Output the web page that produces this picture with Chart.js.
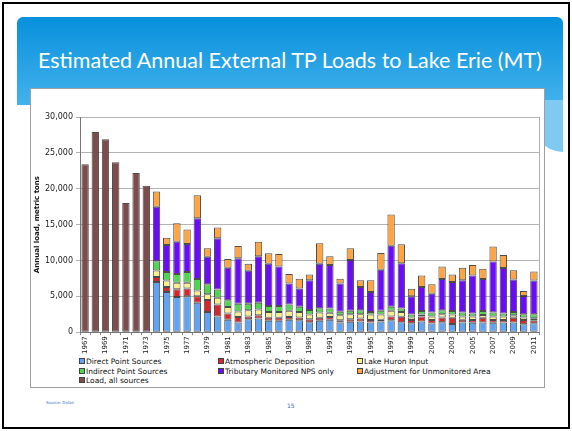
<!DOCTYPE html>
<html>
<head>
<meta charset="utf-8">
<script src="https://cdn.jsdelivr.net/npm/chart.js@4/dist/chart.umd.min.js"></script>
<style>
  body { margin: 0; width: 572px; height: 431px; background: #fff; position: relative; overflow: hidden; font-family: "DejaVu Sans", sans-serif; }
  #frame { position: absolute; left: 2px; top: 2px; width: 564px; height: 423px; border: 2px solid #000; }
  #header { position: absolute; left: 17px; top: 17px; width: 546px; height: 88px; border-radius: 6px 6px 0 0;
            background: linear-gradient(#0790dc, #44b2ec); }
  #wave { position: absolute; left: 528px; top: 100px; width: 35px; height: 52px; background: #7fcaf3; border-bottom-left-radius: 40px 50px; }
  #title { position: absolute; left: 17px; top: 47px; width: 546px; text-align: center; color: #fff; font-family: Lato, sans-serif; font-size: 21.5px; }
  #box { position: absolute; left: 30px; top: 88px; width: 513px; height: 298px; background: #fff; border: 1px solid #a0a0a0; }
  #wrap { position: absolute; left: 31px; top: 89px; width: 513px; height: 266px; }
  .leg { position: absolute; font-size: 7.5px; color: #111; white-space: nowrap; line-height: 8px; }
  .leg i { display: inline-block; width: 4px; height: 4px; border: 1px solid #444; margin-right: 1px; vertical-align: 0px; }
  #source { position: absolute; left: 46px; top: 400px; font-size: 4px; color: #3a6fc8; }
  #page { position: absolute; left: 287px; top: 402px; font-size: 6px; color: #3a6fc8; }
</style>
</head>
<body>
<div id="frame"></div>
<div id="header"></div>
<div id="wave"></div>
<div id="title">Estimated Annual External TP Loads to Lake Erie (MT)</div>
<div id="box"></div>
<div id="wrap"><canvas id="chart" width="513" height="266"></canvas></div>
<div id="legend"></div>
<div id="source">Source: Dolan</div>
<div id="page">15</div>
<script>
var years = [];
for (let y = 1967; y <= 2011; y++) years.push(String(y));

// metric tons
var direct = [null, null, null, null, null, null, null,
  7000, 5600, 4900, 5000, 4100, 2800, 2200, 1750, 1350, 1800, 1900, 1600, 1600, 1750, 1650, 1400,
  1600, 1750, 1350, 1450, 1500, 1350, 1500, 1650, 1400, 1250, 1500, 1200, 1400, 1150, 1350, 1300,
  1350, 1300, 1350, 1350, 1100, 1250];
var atmos = [null, null, null, null, null, null, null,
  700, 700, 1100, 1100, 900, 1700, 1650, 850, 750, 400, 450, 400, 400, 350, 400, 400,
  400, 350, 300, 350, 400, 350, 250, 550, 750, 450, 700, 500, 650, 850, 400, 400,
  650, 400, 350, 650, 600, 400];
var huron = [null, null, null, null, null, null, null,
  900, 900, 900, 800, 800, 800, 950, 900, 800, 850, 800, 800, 800, 900, 750, 650,
  750, 600, 700, 700, 600, 750, 700, 800, 650, 350, 250, 500, 450, 450, 450, 500,
  400, 500, 500, 350, 350, 300];
var indirect = [null, null, null, null, null, null, null,
  1300, 1200, 1200, 1500, 1600, 1400, 1150, 950, 1050, 900, 950, 850, 850, 850, 750, 650,
  600, 600, 500, 500, 550, 350, 550, 550, 500, 400, 500, 550, 550, 500, 550, 400,
  550, 550, 400, 450, 450, 550];
var tributary = [null, null, null, null, null, null, null,
  7600, 3750, 4500, 3900, 8500, 3800, 7150, 4550, 6350, 4600, 6500, 5900, 5500, 2950, 2550, 4150,
  6200, 6050, 3950, 7050, 3250, 2800, 5700, 8500, 6300, 2550, 3350, 2600, 4350, 4050, 4500, 5300,
  4450, 7100, 6350, 4550, 2550, 4700];
var adjust = [null, null, null, null, null, null, null,
  2100, 1000, 2600, 2000, 3200, 1200, 1500, 1200, 1700, 1000, 2000, 1450, 1750, 1300, 1350, 800,
  2850, 1250, 650, 1650, 950, 1650, 2350, 4350, 2650, 1050, 1600, 1350, 1750, 1050, 1750, 1450,
  1450, 2100, 1800, 1300, 700, 1250];
var loadAll = [23400, 27900, 26900, 23700, 18000, 22200, 20400];

var yTicks = [0, 5000, 10000, 15000, 20000, 25000, 30000];

var series = [
  {label: "Direct Point Sources", data: direct, color: "#5fa3f2"},
  {label: "Atmospheric Deposition", data: atmos, color: "#d8252b"},
  {label: "Lake Huron Input", data: huron, color: "#fbef8c"},
  {label: "Indirect Point Sources", data: indirect, color: "#4fd64f"},
  {label: "Tributary Monitored NPS only", data: tributary, color: "#6a0cf8"},
  {label: "Adjustment for Unmonitored Area", data: adjust, color: "#ffa443"},
  {label: "Load, all sources", data: loadAll, color: "#7d4c4c"}
];

function plotBorder() {
  return {
    id: "plotBorder",
    afterDraw(c) {
      let a = c.chartArea, ctx = c.ctx;
      ctx.save();
      ctx.strokeStyle = "#b0b0b0";
      ctx.lineWidth = 1;
      ctx.beginPath();
      ctx.moveTo(a.right + 0.5, a.top);
      ctx.lineTo(a.right + 0.5, a.bottom);
      ctx.stroke();
      ctx.restore();
    }
  };
}

function makeLegend() {
  let cols = [79, 218, 357];
  let rows = [358, 368, 377];
  let html = "";
  series.forEach(function (s, i) {
    let x = cols[i % 3], y = rows[Math.floor(i / 3)];
    html += '<div class="leg" style="left:' + x + 'px;top:' + y + 'px"><i style="background:' + s.color + '"></i>' + s.label + '</div>';
  });
  document.getElementById("legend").innerHTML = html;
}

var ds = series.map(function (s) {
  return {
    label: s.label,
    data: s.data,
    backgroundColor: s.color,
    borderColor: "rgba(45,45,45,0.85)",
    borderWidth: 1,
    borderSkipped: false,
    stack: "tp",
    categoryPercentage: 1,
    barPercentage: 0.72
  };
});

var chart = new Chart(document.getElementById("chart"), {
  type: "bar",
  data: {labels: years, datasets: ds},
  plugins: [plotBorder()],
  options: {
    responsive: false,
    animation: false,
    layout: {padding: {left: 0, right: 5, top: 28, bottom: 0}},
    plugins: {legend: {display: false}, tooltip: {enabled: false}},
    scales: {
      x: {
        stacked: true,
        grid: {drawOnChartArea: false, tickLength: 3, color: "#888"},
        border: {color: "#777"},
        ticks: {
          autoSkip: false, minRotation: 90, maxRotation: 90, padding: 1,
          color: "#222", font: {family: "DejaVu Sans", size: 7},
          callback: function (v, i) { return i % 2 === 0 ? years[i] : ""; }
        }
      },
      y: {
        stacked: true,
        min: 0, max: 30000,
        afterFit: function (s) { s.width = 49; },
        afterBuildTicks: function (s) { s.ticks = yTicks.map(function (v) { return {value: v}; }); },
        grid: {color: "#b4b4b4", tickLength: 4},
        border: {color: "#777"},
        ticks: {
          padding: 3, color: "#222", font: {family: "DejaVu Sans", size: 8},
          callback: function (v) { return v.toLocaleString("en-US"); }
        },
        title: {
          display: true, text: "Annual load, metric tons", color: "#111",
          padding: {top: 2, bottom: 4},
          font: {family: "DejaVu Sans", size: 7, weight: "bold"}
        }
      }
    }
  }
});
makeLegend();
</script>
</body>
</html>
